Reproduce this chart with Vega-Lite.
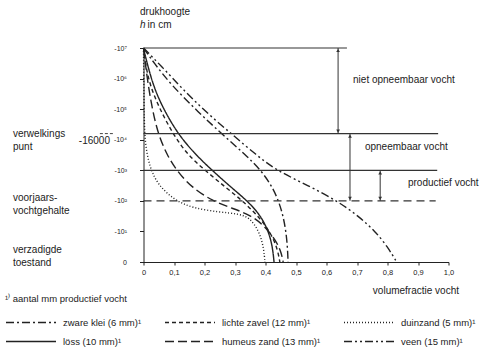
{
  "$schema": "https://vega.github.io/schema/vega-lite/v6.json",
  "width": 305,
  "height": 214,
  "autosize": {"type": "none"},
  "padding": {"left": 143.5, "top": 48, "right": 51.5, "bottom": 94},
  "config": {
    "view": {"stroke": null},
    "font": "Liberation Sans",
    "axis": {"labelOverlap": false, "labelFlush": false},
    "text": {"font": "Liberation Sans", "fontSize": 10, "color": "#222"}
  },
  "datasets": {
    "curves": [
      {"soort": "zware klei (6 mm)¹", "pF": 7, "theta": 0},
      {"soort": "zware klei (6 mm)¹", "pF": 6.5, "theta": 0.035},
      {"soort": "zware klei (6 mm)¹", "pF": 5.78, "theta": 0.092},
      {"soort": "zware klei (6 mm)¹", "pF": 4.9, "theta": 0.18},
      {"soort": "zware klei (6 mm)¹", "pF": 4.18, "theta": 0.258},
      {"soort": "zware klei (6 mm)¹", "pF": 3.5, "theta": 0.335},
      {"soort": "zware klei (6 mm)¹", "pF": 3.0, "theta": 0.385},
      {"soort": "zware klei (6 mm)¹", "pF": 2.5, "theta": 0.42},
      {"soort": "zware klei (6 mm)¹", "pF": 2.0, "theta": 0.443},
      {"soort": "zware klei (6 mm)¹", "pF": 1.5, "theta": 0.458},
      {"soort": "zware klei (6 mm)¹", "pF": 1.0, "theta": 0.467},
      {"soort": "zware klei (6 mm)¹", "pF": 0.5, "theta": 0.472},
      {"soort": "zware klei (6 mm)¹", "pF": 0, "theta": 0.474},
      {"soort": "lichte zavel (12 mm)¹", "pF": 7, "theta": 0},
      {"soort": "lichte zavel (12 mm)¹", "pF": 6.5, "theta": 0.006},
      {"soort": "lichte zavel (12 mm)¹", "pF": 5.78, "theta": 0.021},
      {"soort": "lichte zavel (12 mm)¹", "pF": 5.03, "theta": 0.052},
      {"soort": "lichte zavel (12 mm)¹", "pF": 4.18, "theta": 0.097},
      {"soort": "lichte zavel (12 mm)¹", "pF": 3.5, "theta": 0.145},
      {"soort": "lichte zavel (12 mm)¹", "pF": 2.97, "theta": 0.205},
      {"soort": "lichte zavel (12 mm)¹", "pF": 2.42, "theta": 0.272},
      {"soort": "lichte zavel (12 mm)¹", "pF": 1.96, "theta": 0.33},
      {"soort": "lichte zavel (12 mm)¹", "pF": 1.4, "theta": 0.385},
      {"soort": "lichte zavel (12 mm)¹", "pF": 0.9, "theta": 0.42},
      {"soort": "lichte zavel (12 mm)¹", "pF": 0.4, "theta": 0.44},
      {"soort": "lichte zavel (12 mm)¹", "pF": 0, "theta": 0.447},
      {"soort": "duinzand (5 mm)¹", "pF": 7, "theta": 0},
      {"soort": "duinzand (5 mm)¹", "pF": 6, "theta": 0.001},
      {"soort": "duinzand (5 mm)¹", "pF": 5, "theta": 0.002},
      {"soort": "duinzand (5 mm)¹", "pF": 4.5, "theta": 0.003},
      {"soort": "duinzand (5 mm)¹", "pF": 3.82, "theta": 0.006},
      {"soort": "duinzand (5 mm)¹", "pF": 3.07, "theta": 0.021},
      {"soort": "duinzand (5 mm)¹", "pF": 2.52, "theta": 0.048},
      {"soort": "duinzand (5 mm)¹", "pF": 2.03, "theta": 0.1},
      {"soort": "duinzand (5 mm)¹", "pF": 1.76, "theta": 0.162},
      {"soort": "duinzand (5 mm)¹", "pF": 1.63, "theta": 0.25},
      {"soort": "duinzand (5 mm)¹", "pF": 1.58, "theta": 0.31},
      {"soort": "duinzand (5 mm)¹", "pF": 1.45, "theta": 0.35},
      {"soort": "duinzand (5 mm)¹", "pF": 0.95, "theta": 0.382},
      {"soort": "duinzand (5 mm)¹", "pF": 0.4, "theta": 0.395},
      {"soort": "duinzand (5 mm)¹", "pF": 0, "theta": 0.398},
      {"soort": "löss (10 mm)¹", "pF": 7, "theta": 0},
      {"soort": "löss (10 mm)¹", "pF": 6.77, "theta": 0.005},
      {"soort": "löss (10 mm)¹", "pF": 5.78, "theta": 0.031},
      {"soort": "löss (10 mm)¹", "pF": 5.03, "theta": 0.064},
      {"soort": "löss (10 mm)¹", "pF": 4.18, "theta": 0.113},
      {"soort": "löss (10 mm)¹", "pF": 3.5, "theta": 0.172},
      {"soort": "löss (10 mm)¹", "pF": 2.97, "theta": 0.228},
      {"soort": "löss (10 mm)¹", "pF": 2.42, "theta": 0.29},
      {"soort": "löss (10 mm)¹", "pF": 1.96, "theta": 0.345},
      {"soort": "löss (10 mm)¹", "pF": 1.5, "theta": 0.385},
      {"soort": "löss (10 mm)¹", "pF": 1.0, "theta": 0.41},
      {"soort": "löss (10 mm)¹", "pF": 0.5, "theta": 0.423},
      {"soort": "löss (10 mm)¹", "pF": 0, "theta": 0.428},
      {"soort": "humeus zand (13 mm)¹", "pF": 7, "theta": 0},
      {"soort": "humeus zand (13 mm)¹", "pF": 6, "theta": 0.012},
      {"soort": "humeus zand (13 mm)¹", "pF": 5.03, "theta": 0.028},
      {"soort": "humeus zand (13 mm)¹", "pF": 4.18, "theta": 0.048},
      {"soort": "humeus zand (13 mm)¹", "pF": 3.5, "theta": 0.077},
      {"soort": "humeus zand (13 mm)¹", "pF": 2.97, "theta": 0.11},
      {"soort": "humeus zand (13 mm)¹", "pF": 2.42, "theta": 0.16},
      {"soort": "humeus zand (13 mm)¹", "pF": 1.99, "theta": 0.228},
      {"soort": "humeus zand (13 mm)¹", "pF": 1.76, "theta": 0.29},
      {"soort": "humeus zand (13 mm)¹", "pF": 1.54, "theta": 0.35},
      {"soort": "humeus zand (13 mm)¹", "pF": 1.2, "theta": 0.395},
      {"soort": "humeus zand (13 mm)¹", "pF": 0.7, "theta": 0.435},
      {"soort": "humeus zand (13 mm)¹", "pF": 0.3, "theta": 0.452},
      {"soort": "humeus zand (13 mm)¹", "pF": 0, "theta": 0.458},
      {"soort": "veen (15 mm)¹", "pF": 7, "theta": 0},
      {"soort": "veen (15 mm)¹", "pF": 6.34, "theta": 0.065},
      {"soort": "veen (15 mm)¹", "pF": 5.69, "theta": 0.125},
      {"soort": "veen (15 mm)¹", "pF": 4.9, "theta": 0.205},
      {"soort": "veen (15 mm)¹", "pF": 4.18, "theta": 0.29},
      {"soort": "veen (15 mm)¹", "pF": 3.5, "theta": 0.37},
      {"soort": "veen (15 mm)¹", "pF": 3.0, "theta": 0.435},
      {"soort": "veen (15 mm)¹", "pF": 2.5, "theta": 0.54},
      {"soort": "veen (15 mm)¹", "pF": 2.0, "theta": 0.635},
      {"soort": "veen (15 mm)¹", "pF": 1.5, "theta": 0.705},
      {"soort": "veen (15 mm)¹", "pF": 1.0, "theta": 0.76},
      {"soort": "veen (15 mm)¹", "pF": 0.5, "theta": 0.8},
      {"soort": "veen (15 mm)¹", "pF": 0, "theta": 0.83}
    ],
    "levels": [
      {"pF": 7, "theta": 0, "theta2": 0.667},
      {"pF": 4.2, "theta": 0, "theta2": 0.966},
      {"pF": 3, "theta": 0, "theta2": 0.963}
    ],
    "arrows": [
      {"theta": 0.638, "top": 7, "bottom": 4.2},
      {"theta": 0.677, "top": 4.2, "bottom": 2},
      {"theta": 0.776, "top": 3, "bottom": 2}
    ]
  },
  "layer": [
    {
      "data": {"name": "curves"},
      "mark": {"type": "line", "color": "#222", "strokeWidth": 1.4, "interpolate": "basis"},
      "encoding": {
        "x": {
          "field": "theta",
          "type": "quantitative",
          "scale": {"domain": [0, 1], "nice": false, "zero": false},
          "axis": {
            "title": "volumefractie vocht",
            "values": [0, 0.1, 0.2, 0.3, 0.4, 0.5, 0.6, 0.7, 0.8, 0.9, 1.0],
            "tickCount": 20,
            "labelExpr": "datum.value == 0 ? '0' : replace(format(datum.value, '.1f'), '.', ',')",
            "labelOverlap": false,
            "grid": false,
            "domainColor": "#222",
            "tickColor": "#222",
            "tickSize": 3,
            "labelFontSize": 7.5,
            "labelColor": "#222",
            "labelPadding": 3,
            "labelFont": "Liberation Sans",
            "titleFont": "Liberation Sans",
            "titleFontSize": 10,
            "titleFontWeight": "normal",
            "titleColor": "#222",
            "titleX": 315,
            "titleY": 23,
            "titleAlign": "right",
            "titleBaseline": "top"
          }
        },
        "y": {
          "field": "pF",
          "type": "quantitative",
          "scale": {"domain": [0, 7], "nice": false, "zero": false},
          "axis": {
            "title": null,
            "values": [0, 1, 2, 3, 4, 5, 6, 7],
            "tickCount": 20,
            "labelExpr": "['0','-10¹','-10²','-10³','-10⁴','-10⁵','-10⁶','-10⁷'][datum.value]",
            "labelOverlap": false,
            "grid": false,
            "domainColor": "#222",
            "tickColor": "#222",
            "tickSize": 4,
            "labelFontSize": 7,
            "labelColor": "#222",
            "labelPadding": 13,
            "labelFont": "Liberation Sans"
          }
        },
        "order": {"field": "pF", "sort": "descending"},
        "strokeDash": {
          "field": "soort",
          "type": "nominal",
          "scale": {
            "domain": ["zware klei (6 mm)¹", "lichte zavel (12 mm)¹", "duinzand (5 mm)¹", "löss (10 mm)¹", "humeus zand (13 mm)¹", "veen (15 mm)¹"],
            "range": [[8, 3, 2, 3], [4, 3], [1, 2], [1, 0], [9, 4], [8, 3, 2, 3, 2, 3]]
          },
          "legend": {
            "title": "¹⁾ aantal mm productief vocht",
            "orient": "none",
            "legendX": -138.5,
            "legendY": 246,
            "direction": "horizontal",
            "columns": 3,
            "padding": 0,
            "symbolType": "stroke",
            "symbolSize": 2500,
            "symbolStrokeWidth": 1.4,
            "symbolStrokeColor": "#222",
            "clipHeight": 14,
            "rowPadding": 5,
            "columnPadding": 22,
            "labelOffset": 6,
            "labelFontSize": 9.5,
            "labelFont": "Liberation Sans",
            "labelColor": "#222",
            "labelLimit": 300,
            "titleFont": "Liberation Sans",
            "titleFontSize": 9.5,
            "titleFontWeight": "normal",
            "titleColor": "#222",
            "titlePadding": 12
          }
        }
      }
    },
    {
      "data": {"name": "levels"},
      "mark": {"type": "rule", "color": "#333", "strokeWidth": 1.2},
      "encoding": {
        "x": {"field": "theta", "type": "quantitative"},
        "x2": {"field": "theta2"},
        "y": {"field": "pF", "type": "quantitative"}
      }
    },
    {
      "data": {"values": [{}]},
      "mark": {"type": "rule", "color": "#333", "strokeWidth": 1.2, "strokeDash": [8, 5]},
      "encoding": {
        "x": {"datum": 0, "type": "quantitative"},
        "x2": {"datum": 0.958},
        "y": {"datum": 2, "type": "quantitative"}
      }
    },
    {
      "data": {"values": [{}]},
      "mark": {"type": "rule", "color": "#444", "strokeWidth": 1, "strokeDash": [3, 2]},
      "encoding": {
        "x": {"datum": -0.143, "type": "quantitative"},
        "x2": {"datum": -0.097},
        "y": {"datum": 4.2, "type": "quantitative"}
      }
    },
    {
      "data": {"name": "arrows"},
      "mark": {"type": "rule", "color": "#333", "strokeWidth": 1},
      "encoding": {
        "x": {"field": "theta", "type": "quantitative"},
        "y": {"field": "top", "type": "quantitative"},
        "y2": {"field": "bottom"}
      }
    },
    {
      "data": {"name": "arrows"},
      "mark": {"type": "point", "shape": "triangle-up", "filled": true, "color": "#333", "size": 14, "yOffset": 2.5, "opacity": 1},
      "encoding": {
        "x": {"field": "theta", "type": "quantitative"},
        "y": {"field": "top", "type": "quantitative"}
      }
    },
    {
      "data": {"name": "arrows"},
      "mark": {"type": "point", "shape": "triangle-down", "filled": true, "color": "#333", "size": 14, "yOffset": -2.5, "opacity": 1},
      "encoding": {
        "x": {"field": "theta", "type": "quantitative"},
        "y": {"field": "bottom", "type": "quantitative"}
      }
    },
    {
      "data": {"values": [{}]},
      "mark": {"type": "text", "text": "drukhoogte", "align": "left", "baseline": "middle"},
      "encoding": {"x": {"datum": -0.0115, "type": "quantitative"}, "y": {"datum": 8.18, "type": "quantitative"}}
    },
    {
      "data": {"values": [{}]},
      "mark": {"type": "text", "text": "h", "align": "left", "baseline": "middle", "fontStyle": "italic"},
      "encoding": {"x": {"datum": -0.0115, "type": "quantitative"}, "y": {"datum": 7.75, "type": "quantitative"}}
    },
    {
      "data": {"values": [{}]},
      "mark": {"type": "text", "text": "in cm", "align": "left", "baseline": "middle"},
      "encoding": {"x": {"datum": 0.0135, "type": "quantitative"}, "y": {"datum": 7.75, "type": "quantitative"}}
    },
    {
      "data": {"values": [{}]},
      "mark": {"type": "text", "text": ["verwelkings", "punt"], "align": "left", "baseline": "middle", "lineHeight": 13},
      "encoding": {"x": {"datum": -0.428, "type": "quantitative"}, "y": {"datum": 4.19, "type": "quantitative"}}
    },
    {
      "data": {"values": [{}]},
      "mark": {"type": "text", "text": "-16000", "align": "right", "baseline": "middle"},
      "encoding": {"x": {"datum": -0.11, "type": "quantitative"}, "y": {"datum": 3.96, "type": "quantitative"}}
    },
    {
      "data": {"values": [{}]},
      "mark": {"type": "text", "text": ["voorjaars-", "vochtgehalte"], "align": "left", "baseline": "middle", "lineHeight": 13},
      "encoding": {"x": {"datum": -0.428, "type": "quantitative"}, "y": {"datum": 2.08, "type": "quantitative"}}
    },
    {
      "data": {"values": [{}]},
      "mark": {"type": "text", "text": ["verzadigde", "toestand"], "align": "left", "baseline": "middle", "lineHeight": 13},
      "encoding": {"x": {"datum": -0.428, "type": "quantitative"}, "y": {"datum": 0.39, "type": "quantitative"}}
    },
    {
      "data": {"values": [{}]},
      "mark": {"type": "text", "text": "niet opneembaar vocht", "align": "left", "baseline": "middle"},
      "encoding": {"x": {"datum": 0.687, "type": "quantitative"}, "y": {"datum": 5.95, "type": "quantitative"}}
    },
    {
      "data": {"values": [{}]},
      "mark": {"type": "text", "text": "opneembaar vocht", "align": "left", "baseline": "middle"},
      "encoding": {"x": {"datum": 0.726, "type": "quantitative"}, "y": {"datum": 3.76, "type": "quantitative"}}
    },
    {
      "data": {"values": [{}]},
      "mark": {"type": "text", "text": "productief vocht", "align": "left", "baseline": "middle"},
      "encoding": {"x": {"datum": 0.867, "type": "quantitative"}, "y": {"datum": 2.58, "type": "quantitative"}}
    }
  ]
}
